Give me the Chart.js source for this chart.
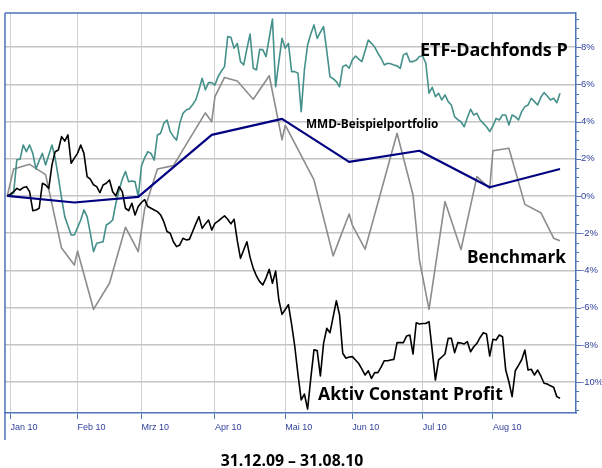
<!DOCTYPE html>
<html>
<head>
<meta charset="utf-8">
<script src="https://cdn.jsdelivr.net/npm/chart.js@4.4.1/dist/chart.umd.min.js"></script>
<style>
html,body{margin:0;padding:0;background:#ffffff;}
#wrap{width:602px;height:468px;position:relative;}
</style>
</head>
<body>
<div id="wrap"><canvas id="c" width="602" height="468"></canvas></div>
<script>
// ---- categories / ticks (x = trading-day index, 0 = 31.12.09) ----
const monthLabels = ['Jan 10','Feb 10','Mrz 10','Apr 10','Mai 10','Jun 10','Jul 10','Aug 10'];
const monthStartIdx = [1, 22, 42, 65, 87, 108, 130, 152];
const yTickValues = [-10, -8, -6, -4, -2, 0, 2, 4, 6, 8];

// ---- series (percent) ----
const etfValues = [
 0, 0.05, 0.15, 1.95, 1.97, 2.74, 2.38, 2.74, 2.29, 1.45,
 1.9, 2.29, 1.67, 2.2, 2.74, 2.03, 1.0, -0.1, -1.11, -1.6,
 -2.1, -2.1, -1.7, -1.29, -0.75, -1.11, -2.0, -2.99, -2.54, -2.5,
 -2.46, -1.56, -1.45, -1.29, -0.39, 0.3, 0.9, 1.31, 0.77, 0.8,
 0.77, -0.04, 1.6, 2.05, 2.38, 2.29, 1.93, 3.28, 3.37, 3.9,
 4.08, 3.46, 3.2, 3.0, 3.9, 4.44, 4.62, 4.69, 4.9, 5.16,
 5.7, 6.32, 5.7, 6.09, 6.09, 5.96, 6.41, 6.7, 6.95, 8.56,
 8.53, 7.94, 8.2, 7.22, 7.04, 7.9, 8.7, 6.86, 6.77, 7.88,
 7.85, 7.49, 8.5, 9.5, 5.87, 7.2, 8.47, 7.94, 8.2, 6.68,
 6.68, 6.59, 4.53, 6.77, 8.11, 8.7, 9.19, 8.47, 8.8, 9.1,
 7.8, 6.41, 6.3, 6.14, 5.87, 6.95, 7.04, 6.86, 7.31, 7.52,
 7.35, 7.22, 7.8, 8.38, 8.2, 8.0, 7.67, 7.4, 7.04, 7.13,
 7.1, 7.04, 6.99, 6.86, 7.58, 7.67, 7.22, 7.22, 7.3, 7.49,
 7.52, 7.13, 5.52, 5.84, 5.34, 5.52, 5.16, 5.43, 5.07, 4.89,
 4.26, 4.1, 3.99, 3.72, 4.2, 4.66, 4.35, 4.44, 4.08, 3.9,
 3.72, 3.46, 3.76, 4.17, 4.08, 4.35, 4.35, 3.81, 4.35, 4.26,
 4.08, 4.53, 4.8, 4.89, 5.25, 5.07, 4.89, 5.3, 5.55, 5.37,
 5.16, 5.25, 5.01, 5.52
];
const acpValues = [
 0, 0.1, 0.23, 0.41, 0.32, 0.45, 0.5, 0.23, -0.79, -0.75,
 -0.66, 0.68, 0.59, 0.41, 1.67, 2.38, 2.47, 3.19, 2.95, 3.28,
 1.76, 2.03, 2.29, 2.74, 2.29, 1.04, 0.9, 0.6, 0.5, 0.18,
 0.59, 0.68, 0.86, 0.23, 0, 0.5, 0.23, -0.66, -0.79, -0.39,
 -1.02, -0.57, -0.35, -0.2, -0.57, -0.66, -0.75, -0.84, -1.02, -1.38,
 -1.91, -2.0, -2.46, -2.72, -2.63, -2.27, -2.36, -2.33, -1.92, -1.5,
 -1.11, -1.74, -1.5, -1.29, -1.83, -1.47, -1.35, -1.2, -1.07, -1.25,
 -1.5, -1.25, -2.4, -3.35, -2.9, -2.46, -3.3, -3.89, -4.3, -4.6,
 -4.78, -4.4, -3.94, -4.69, -4.03, -5.59, -6.36, -6.1, -5.84, -6.9,
 -8.1, -9.6, -10.96, -10.64, -11.45, -9.8, -8.27, -8.31, -9.67, -7.92,
 -7.11, -7.35, -6.5, -5.63, -6.39, -8.45, -8.72, -8.65, -8.63, -8.81,
 -9.0, -9.3, -9.62, -9.39, -9.8, -9.49, -9.49, -9.2, -8.85, -8.85,
 -8.81, -8.78, -7.88, -7.88, -7.88, -7.52, -7.47, -8.49, -6.81, -6.88,
 -6.85, -6.85, -6.75, -8.3, -9.89, -8.81, -8.65, -8.49, -7.65, -7.65,
 -8.42, -7.88, -7.9, -7.95, -7.83, -8.37, -8.1, -7.92, -7.6, -7.35,
 -7.42, -8.6, -7.7, -7.74, -7.47, -7.56, -9.35, -9.98, -10.78, -9.39,
 -9.1, -8.8, -8.28, -9.35, -9.31, -9.62, -9.35, -9.67, -10.06, -10.1,
 -10.2, -10.28, -10.78, -10.87
];
const benchIdx = [0, 2, 7, 12, 17, 21, 22, 27, 32, 37, 41, 43, 47, 52, 62, 64, 65, 68, 72, 77, 82, 86, 87, 96, 102, 107, 108, 112, 122, 127, 129, 132, 137, 142, 147, 151, 152, 157, 162, 167, 171, 173];
const benchValues = [0, 1.45, 1.7, 1.15, -2.8, -3.71, -2.96, -6.09, -4.69, -1.68, -2.99, -0.7, 1.45, 1.63, 4.46, 3.99, 5.34, 6.37, 6.18, 5.2, 6.46, 3.02, 3.8, 0.86, -3.22, -0.97, -1.56, -2.86, 3.37, 0.05, -3.44, -6.09, -0.3, -2.88, 1.04, 0.41, 2.43, 2.56, -0.45, -0.9, -2.27, -2.4];
const mmdIdx = [0, 21, 41, 64, 86, 107, 129, 151, 173];
const mmdValues = [0, -0.35, -0.05, 3.28, 4.14, 1.83, 2.43, 0.47, 1.45];

const AXIS_BLUE = '#4f74b8';
const TICK_TEXT = '#2f3f9c';

const pts = (xs, ys) => ys.map((v, i) => ({x: xs ? xs[i] : i, y: v}));

const deco = {
  id: 'deco',
  afterDraw(chart) {
    const {ctx, chartArea: a, scales: {y}} = chart;
    ctx.save();
    ctx.strokeStyle = AXIS_BLUE;
    ctx.lineWidth = 1.5;
    ctx.beginPath();
    ctx.moveTo(a.left, a.top); ctx.lineTo(a.right, a.top);
    ctx.moveTo(a.left, a.top); ctx.lineTo(a.left, 440);
    ctx.stroke();
    ctx.lineWidth = 1;
    ctx.beginPath();
    for (let k = -23; k <= 19; k++) {
      const v = k * 0.5;
      const p = y.getPixelForValue(v);
      if (p < a.top || p > a.bottom) continue;
      const major = (k % 4 === 0);
      const yy = Math.round(p) + 0.5;
      ctx.moveTo(a.right, yy);
      ctx.lineTo(a.right + (major ? 5 : 3), yy);
    }
    ctx.stroke();

    ctx.fillStyle = '#000';
    ctx.textBaseline = 'alphabetic';
    ctx.textAlign = 'left';
    ctx.font = '700 18px "Open Sans"';
    ctx.fillText('ETF-Dachfonds P', 420, 56);
    ctx.font = '700 17.6px "Open Sans"';
    ctx.fillText('Aktiv Constant Profit', 318, 400);
    ctx.font = '700 17.2px "Open Sans"';
    ctx.fillText('Benchmark', 467, 263);
    ctx.font = '700 11.8px "Open Sans"';
    ctx.fillText('MMD-Beispielportfolio', 306, 128);
    ctx.font = '700 15.8px "Open Sans"';
    ctx.textAlign = 'center';
    ctx.fillText('31.12.09 \u2013 31.08.10', 292, 466);
    ctx.restore();
  }
};

new Chart(document.getElementById('c'), {
  type: 'line',
  data: {
    datasets: [
      {label: 'MMD-Beispielportfolio', data: pts(mmdIdx, mmdValues), borderColor: '#000080', borderWidth: 2.2, order: 0},
      {label: 'Aktiv Constant Profit', data: pts(null, acpValues), borderColor: '#000000', borderWidth: 1.6, order: 1},
      {label: 'ETF-Dachfonds P', data: pts(null, etfValues), borderColor: '#44908a', borderWidth: 1.6, order: 2},
      {label: 'Benchmark', data: pts(benchIdx, benchValues), borderColor: '#8c8c8c', borderWidth: 1.6, order: 3}
    ]
  },
  options: {
    responsive: false,
    animation: false,
    devicePixelRatio: 1,
    parsing: false,
    layout: {padding: {left: 5, top: 13, right: 0, bottom: 0}},
    plugins: {legend: {display: false}, tooltip: {enabled: false}, title: {display: false}},
    elements: {point: {radius: 0, hoverRadius: 0}, line: {tension: 0, borderJoinStyle: 'round', fill: false}},
    scales: {
      x: {
        type: 'linear', position: 'bottom', min: -0.7, max: 178,
        afterBuildTicks: s => { s.ticks = monthStartIdx.map(v => ({value: v})); },
        afterFit: s => { s.height = 55; },
        grid: {color: '#d0d0d0', lineWidth: 1, drawTicks: true, tickLength: 6, tickColor: AXIS_BLUE, tickWidth: 1},
        border: {display: true, color: AXIS_BLUE, width: 1.5},
        ticks: {autoSkip: false, maxRotation: 0, minRotation: 0, align: 'start', padding: 3,
          color: TICK_TEXT, font: {family: 'Liberation Sans', size: 9},
          callback: (v, i) => monthLabels[i]}
      },
      y: {
        type: 'linear', position: 'right', min: -11.66, max: 9.83,
        afterBuildTicks: s => { s.ticks = yTickValues.map(v => ({value: v})); },
        afterFit: s => { s.width = 26; },
        grid: {color: '#c4c4c4', lineWidth: 1.5, drawTicks: false},
        border: {display: true, color: AXIS_BLUE, width: 1.5},
        ticks: {padding: 5, color: TICK_TEXT, font: {family: 'Liberation Sans', size: 9.5},
          callback: v => v + '%'}
      }
    }
  },
  plugins: [deco]
});
</script>
</body>
</html>
